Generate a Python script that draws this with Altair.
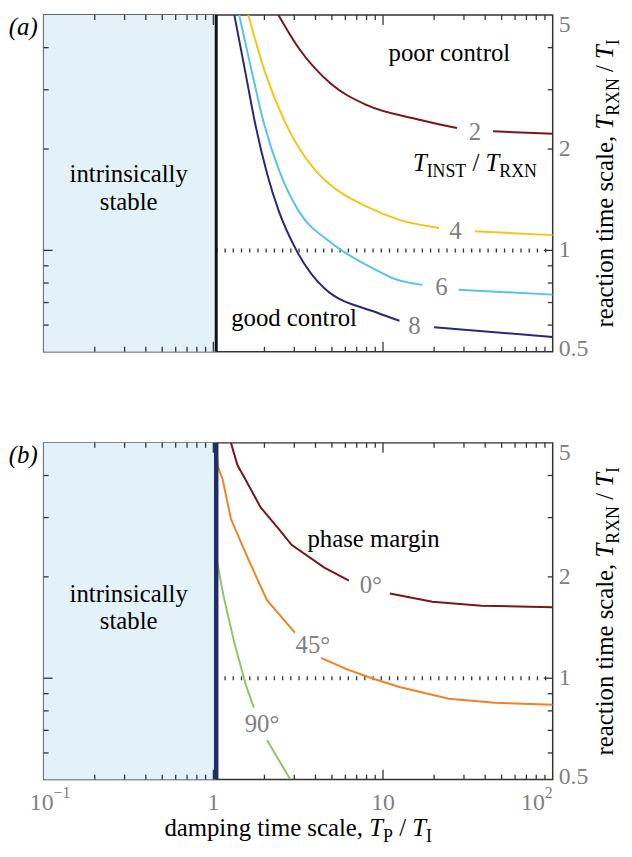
import altair as alt
import pandas as pd

# ---------------- data ----------------
X_DOMAIN = [0.1, 100]
Y_DOMAIN = [0.5, 5]
BOUNDARY_X = 1.04          # edge of the "intrinsically stable" region
REF_LINE_Y = 1.0           # dotted reference level
X_LABELS = [0.1, 1, 10, 100]
X_LABEL_MAIN = ["10", "1", "10", "10"]
X_LABEL_SUP = ["−1", "", "", "2"]
Y_LABELS = [0.5, 1, 2, 5]
Y_LABEL_TEXT = ["0.5", "1", "2", "5"]
X_MINOR = [0.2, 0.3, 0.4, 0.5, 0.6, 0.7, 0.8, 0.9, 2, 3, 4, 5, 6, 7, 8, 9,
           20, 30, 40, 50, 60, 70, 80, 90]
X_MAJOR = [1, 10]
Y_MINOR = [0.6, 0.7, 0.8, 0.9, 2, 3, 4]
Y_MAJOR = [1]

# panel (a): contours of T_INST / T_RXN (each split in two around its label)
a_names = ["2", "4", "6", "8"]
a_colors = ["#7a1518", "#f6c513", "#56c3e7", "#28297a"]
a_x = [
    [[2.42, 3.16, 4.91, 8.04, 15.65, 27.3], [44.5, 100]],
    [[1.608, 2.03, 2.65, 3.95, 4.71, 8.04, 12.5, 21.4], [34.8, 100]],
    [[1.42, 1.696, 1.98, 2.45, 3.16, 4.93, 9.18, 11.47, 17.1], [27.9, 100]],
    [[1.33, 1.55, 1.77, 2.08, 2.42, 3.09, 4.51, 9.18, 12.5], [20.0, 100]],
]
a_y = [
    [[5.0, 4.01, 3.13, 2.70, 2.457, 2.308], [2.258, 2.22]],
    [[5.0, 3.35, 2.40, 1.74, 1.59, 1.348, 1.232, 1.166], [1.14, 1.11]],
    [[5.0, 3.35, 2.40, 1.72, 1.317, 1.055, 0.873, 0.826, 0.79], [0.764, 0.739]],
    [[5.0, 3.35, 2.36, 1.68, 1.317, 1.0, 0.772, 0.654, 0.618], [0.591, 0.553]],
]
a_label_x = [34.8, 26.7, 22.1, 15.3]
a_label_y = [2.247, 1.143, 0.776, 0.598]
a_annot = ["intrinsically", "stable", "poor control", "good control"]
a_annot_x = [0.317, 0.317, 24.6, 2.99]
a_annot_y = [1.596, 1.315, 3.66, 0.598]
a_ratio_anchor = (15.0, 1.717)   # start of the "T_INST / T_RXN" note

# panel (b): phase-margin contours
b_names = ["0°", "45°", "90°"]
b_colors = ["#7a1518", "#f08224", "#8dc663"]
b_x = [
    [[1.27, 1.388, 1.553, 1.897, 2.42, 2.89, 4.51, 6.30], [10.97, 19.55, 38.1, 100]],
    [[1.04, 1.063, 1.137, 1.27, 1.623, 2.07, 2.32, 3.02],
     [4.31, 6.15, 8.59, 12.5, 24.4, 45.5, 100]],
    [[1.04, 1.112, 1.163, 1.328, 1.553, 1.734], [2.07, 2.42, 2.83]],
]
b_y = [
    [[5.0, 4.29, 3.88, 3.22, 2.78, 2.49, 2.13, 1.95], [1.784, 1.686, 1.642, 1.625]],
    [[5.0, 4.25, 3.88, 2.97, 2.23, 1.706, 1.596, 1.366],
     [1.15, 1.062, 1.0, 0.942, 0.869, 0.846, 0.834]],
    [[2.3, 1.907, 1.706, 1.278, 0.956, 0.818], [0.656, 0.574, 0.502]],
]
b_label_x = [8.47, 3.86, 1.937]
b_label_y = [1.886, 1.255, 0.732]
b_annot = ["intrinsically", "stable", "phase margin"]
b_annot_x = [0.317, 0.317, 8.79]
b_annot_y = [1.686, 1.396, 2.46]

# ---------------- styling ----------------
SERIF = "Liberation Serif"
GRAY = "#808080"
W, H = 514, 340
FS, FS_SUB, FS_TICK, FS_SUP = 25, 18, 24, 16
SUB_DY = 6

xs = alt.Scale(type="log", domain=X_DOMAIN, nice=False)
ys = alt.Scale(type="log", domain=Y_DOMAIN, nice=False)


def X(field="x"):
    return alt.X(f"{field}:Q", scale=xs, axis=None)


def Y(field="y"):
    return alt.Y(f"{field}:Q", scale=ys, axis=None)


# approx. Times / Liberation Serif advance widths (per 1000 em)
WID = {"a": 444, "c": 444, "d": 500, "e": 444, "g": 500, "i": 278, "l": 278,
       "m": 778, "n": 500, "o": 500, "p": 500, "r": 333, "s": 389, "t": 278,
       " ": 250, ",": 250, "/": 278, "I": 333, "N": 722, "P": 556, "R": 667,
       "S": 556, "T": 611, "X": 722}


def tw(s, size, italic=False):
    if italic and s == "T":
        return 0.556 * size
    return sum(WID[c] for c in s) / 1000 * size


def pieces(lead, sub1, sub2):
    """(text, dx, dy, size, italic) for  lead T_sub1 / T_sub2, and total width."""
    out = []
    dx = 0.0
    if lead:
        out.append((lead, dx, 0, FS, False))
        dx += tw(lead + " ", FS)
    out.append(("T", dx, 0, FS, True))
    dx += tw("T", FS, True)
    out.append((sub1, dx, SUB_DY, FS_SUB, False))
    dx += tw(sub1, FS_SUB) + tw(" ", FS)
    out.append(("/", dx, 0, FS, False))
    dx += tw("/ ", FS)
    out.append(("T", dx, 0, FS, True))
    dx += tw("T", FS, True)
    out.append((sub2, dx, SUB_DY, FS_SUB, False))
    dx += tw(sub2, FS_SUB)
    return out, dx


one = pd.DataFrame({"k": [0]})


def tick_layers():
    layers = []
    for vals, ln in ((X_MINOR, 5), (X_MAJOR, 10)):
        df = pd.DataFrame({"x": vals})
        for y0, y1 in ((0, ln), (H, H - ln)):
            layers.append(alt.Chart(df).mark_rule(color="#333", strokeWidth=1.3).encode(
                x=X(), y=alt.value(y0), y2=alt.value(y1)))
    for vals, ln in ((Y_MINOR, 5), (Y_MAJOR, 9)):
        df = pd.DataFrame({"y": vals})
        for x0, x1 in ((0, ln), (W, W - ln)):
            layers.append(alt.Chart(df).mark_rule(color="#333", strokeWidth=1.3).encode(
                y=Y(), x=alt.value(x0), x2=alt.value(x1)))
    return layers


def label_layers(bottom):
    layers = []
    ydf = pd.DataFrame({"y": Y_LABELS, "t": Y_LABEL_TEXT})
    top = ydf[ydf["y"] == max(Y_LABELS)]
    low = ydf[ydf["y"] == min(Y_LABELS)]
    mid = ydf[(ydf["y"] != max(Y_LABELS)) & (ydf["y"] != min(Y_LABELS))]
    layers.append(alt.Chart(mid).mark_text(
        font=SERIF, fontSize=FS_TICK, color=GRAY, align="left", baseline="middle").encode(
        x=alt.value(W + 6), y=Y(), text="t:N"))
    layers.append(alt.Chart(low).mark_text(
        font=SERIF, fontSize=FS_TICK, color=GRAY, align="left", baseline="middle",
        dy=-3).encode(x=alt.value(W + 6), y=Y(), text="t:N"))
    layers.append(alt.Chart(top).mark_text(
        font=SERIF, fontSize=FS_TICK, color=GRAY, align="left", baseline="top",
        dy=-2).encode(x=alt.value(W + 6), y=Y(), text="t:N"))
    if bottom:
        LY = H + 12
        for xv, main, sup in zip(X_LABELS, X_LABEL_MAIN, X_LABEL_SUP):
            d = pd.DataFrame({"x": [xv], "t": [main], "s": [sup]})
            if not sup:
                layers.append(alt.Chart(d).mark_text(
                    font=SERIF, fontSize=FS_TICK, color=GRAY, align="center",
                    baseline="top").encode(x=X(), y=alt.value(LY), text="t:N"))
            elif xv < 1:
                layers.append(alt.Chart(d).mark_text(
                    font=SERIF, fontSize=FS_TICK, color=GRAY, align="right",
                    baseline="top", dx=10).encode(x=X(), y=alt.value(LY), text="t:N"))
                layers.append(alt.Chart(d).mark_text(
                    font=SERIF, fontSize=FS_SUP, color=GRAY, align="left",
                    baseline="top", dx=10, dy=-6).encode(x=X(), y=alt.value(LY), text="s:N"))
            else:
                layers.append(alt.Chart(d).mark_text(
                    font=SERIF, fontSize=FS_TICK, color=GRAY, align="right",
                    baseline="top", dx=-8).encode(x=X(), y=alt.value(LY), text="t:N"))
                layers.append(alt.Chart(d).mark_text(
                    font=SERIF, fontSize=FS_SUP, color=GRAY, align="right",
                    baseline="top", dx=0, dy=-6).encode(x=X(), y=alt.value(LY), text="s:N"))
    return layers


def panel(tag, names, colors, xs_list, ys_list, interp, lab_x, lab_y,
          annot, annot_x, annot_y, bcolor, bwidth, bottom, ratio_anchor=None):
    layers = []
    shade = pd.DataFrame({"x": [X_DOMAIN[0]], "x2": [BOUNDARY_X]})
    layers.append(alt.Chart(shade).mark_rect(color="#e2f2f8").encode(
        x=X(), x2="x2:Q", y=alt.value(0), y2=alt.value(H)))
    dotted = pd.DataFrame({"x": [BOUNDARY_X], "x2": [X_DOMAIN[1]], "y": [REF_LINE_Y]})
    layers.append(alt.Chart(dotted).mark_rule(
        color="#333", strokeWidth=4, strokeDash=[1.3, 7.0]).encode(
        x=X(), x2="x2:Q", y=Y()))
    layers += tick_layers()
    for name, color, segsx, segsy in zip(names, colors, xs_list, ys_list):
        rows = []
        for si, (sx, sy) in enumerate(zip(segsx, segsy)):
            for k, (xv, yv) in enumerate(zip(sx, sy)):
                rows.append({"seg": si, "x": xv, "y": yv, "order": k})
        layers.append(alt.Chart(pd.DataFrame(rows)).mark_line(
            strokeWidth=2, interpolate=interp, clip=True, color=color).encode(
            x=X(), y=Y(), detail="seg:N", order="order:Q"))
    layers.append(alt.Chart(pd.DataFrame({"x": [BOUNDARY_X]})).mark_rule(
        color=bcolor, strokeWidth=bwidth).encode(x=X(), y=alt.value(0), y2=alt.value(H)))
    labs = pd.DataFrame({"label": names, "x": lab_x, "y": lab_y})
    layers.append(alt.Chart(labs).mark_text(
        font=SERIF, fontSize=FS, color=GRAY, align="center", baseline="middle").encode(
        x=X(), y=Y(), text="label:N"))
    ann = pd.DataFrame({"label": annot, "x": annot_x, "y": annot_y})
    layers.append(alt.Chart(ann).mark_text(
        font=SERIF, fontSize=FS, color="black", align="center", baseline="alphabetic").encode(
        x=X(), y=Y(), text="label:N"))
    if ratio_anchor is not None:
        anc = pd.DataFrame({"x": [ratio_anchor[0]], "y": [ratio_anchor[1]]})
        pcs, _ = pieces(None, "INST", "RXN")
        for text, dx, dy, size, it in pcs:
            layers.append(alt.Chart(anc).mark_text(
                font=SERIF, fontSize=size, fontStyle="italic" if it else "normal",
                color="black", align="left", baseline="alphabetic", dx=dx, dy=dy).encode(
                x=X(), y=Y(), text=alt.value(text)))
    layers += label_layers(bottom)
    # panel tag
    layers.append(alt.Chart(one).mark_text(
        font=SERIF, fontSize=FS, fontStyle="italic", color="black",
        align="right", baseline="top").encode(
        x=alt.value(-6), y=alt.value(0), text=alt.value(tag)))
    # right-hand axis title (rotated, composed from pieces)
    pcs, total = pieces("reaction time scale,", "RXN", "I")
    for text, dx, dy, size, it in pcs:
        layers.append(alt.Chart(one).mark_text(
            font=SERIF, fontSize=size, fontStyle="italic" if it else "normal",
            color="black", align="left", baseline="alphabetic", angle=270,
            dx=dx, dy=dy).encode(
            x=alt.value(W + 61), y=alt.value(H / 2 + total / 2), text=alt.value(text)))
    if bottom:
        pcs, total = pieces("damping time scale,", "P", "I")
        for text, dx, dy, size, it in pcs:
            layers.append(alt.Chart(one).mark_text(
                font=SERIF, fontSize=size, fontStyle="italic" if it else "normal",
                color="black", align="left", baseline="alphabetic", dx=dx, dy=dy).encode(
                x=alt.value(W / 2 - total / 2), y=alt.value(H + 57), text=alt.value(text)))
    return alt.layer(*layers).properties(width=W, height=H)


panel_a = panel("(a)", a_names, a_colors, a_x, a_y, "monotone", a_label_x, a_label_y,
                a_annot, a_annot_x, a_annot_y, "#111111", 3, False, a_ratio_anchor)
panel_b = panel("(b)", b_names, b_colors, b_x, b_y, "linear", b_label_x, b_label_y,
                b_annot, b_annot_x, b_annot_y, "#1f2d6b", 4.5, True)

chart = alt.vconcat(panel_a, panel_b, spacing=92, bounds="flush", padding=0,
                    background="white").configure_view(stroke="#333", strokeWidth=1.5)

chart.save("out.html", embed_options={"renderer": "svg", "actions": False})
